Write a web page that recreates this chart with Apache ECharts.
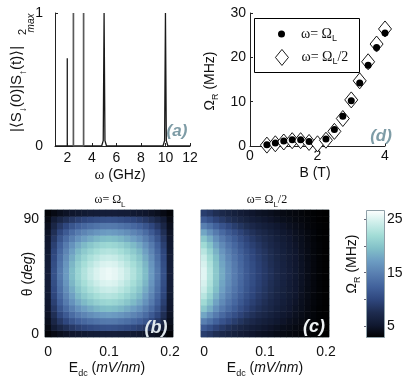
<!DOCTYPE html>
<html>
<head>
<meta charset="utf-8">
<script src="https://cdn.jsdelivr.net/npm/echarts@6/dist/echarts.min.js"></script>
<style>
html,body{margin:0;padding:0;background:#fff;}
#chart{width:415px;height:378px;}
</style>
</head>
<body>
<div id="chart"></div>
<script>
// ---------- Panel (a): spectrum ----------
const specFreq = [1, 2, 2, 2, 4.8, 4.93, 5, 5.07, 5.2, 9.8, 9.93, 10, 10.07, 10.2, 12];
const specAmp  = [0, 0, 0.66, 0, 0, 0.04, 1, 0.04, 0, 0, 0.04, 1, 0.04, 0, 0];
const weakFreq = [2.5, 2.5, 2.5, 3.33, 3.33, 3.33];
const weakAmp  = [0, 1, 0, 0, 1, 0];
const freqTicks = [2, 4, 6, 8, 10, 12];

// ---------- Panel (d): Rabi frequency vs B ----------
const bField    = [0.5, 0.75, 1.0, 1.25, 1.5, 1.75, 2.0, 2.25, 2.5, 2.75, 3.0, 3.25, 3.5, 3.75, 4.0];
const rabiL     = [0.3, 0.7, 1.1, 1.4, 1.4, 1.0, null, 1.6, 3.7, 6.7, 10.2, 14.2, 18.2, 22.2, 25.5];
const rabiHalfL = [0.2, 0.5, 0.9, 1.2, 1.2, 0.8, 0.5, 1.3, 3.3, 6.2, 10.4, 14.7, 19.0, 23.0, 26.4];

// ---------- Panels (b),(c): maps ----------
const edc = [0, 0.01, 0.02, 0.03, 0.04, 0.05, 0.06, 0.07, 0.08, 0.09, 0.1, 0.11, 0.12, 0.13, 0.14, 0.15, 0.16, 0.17, 0.18, 0.19, 0.2];
const thetaDeg = [0, 5, 10, 15, 20, 25, 30, 35, 40, 45, 50, 55, 60, 65, 70, 75, 80, 85, 90, 95];
const edcTickLabels = { '0': '0', '0.1': '0.1', '0.2': '0.2' };
const thetaTickLabels = { '0': '0', '90': '90' };
const cbarTicks = [5, 15, 25];

const rabiMapB = [
 [3.4,4.0,4.5,4.9,5.2,5.4,5.6,5.8,5.9,6.0,6.0,6.0,5.9,5.8,5.6,5.4,5.2,4.9,4.5,4.0,3.4],
 [4.0,5.8,7.0,8.0,8.8,9.5,10.0,10.4,10.7,11.0,11.1,11.0,10.7,10.4,10.0,9.5,8.8,8.0,7.0,5.8,4.0],
 [4.5,7.0,8.8,10.1,11.3,12.3,13.0,13.6,14.0,14.4,14.5,14.4,14.0,13.6,13.0,12.3,11.3,10.1,8.8,7.0,4.5],
 [4.9,8.0,10.1,11.8,13.3,14.6,15.4,16.1,16.7,17.1,17.3,17.1,16.7,16.1,15.4,14.6,13.3,11.8,10.1,8.0,4.9],
 [5.2,8.8,11.3,13.3,14.9,16.4,17.4,18.2,18.9,19.4,19.6,19.4,18.9,18.2,17.4,16.4,14.9,13.3,11.3,8.8,5.2],
 [5.4,9.5,12.3,14.6,16.4,18.1,19.2,20.1,20.9,21.4,21.6,21.4,20.9,20.1,19.2,18.1,16.4,14.6,12.3,9.5,5.4],
 [5.6,10.0,13.0,15.4,17.4,19.2,20.4,21.4,22.2,22.8,23.0,22.8,22.2,21.4,20.4,19.2,17.4,15.4,13.0,10.0,5.6],
 [5.8,10.4,13.6,16.1,18.2,20.1,21.4,22.5,23.3,24.0,24.2,24.0,23.3,22.5,21.4,20.1,18.2,16.1,13.6,10.4,5.8],
 [5.9,10.7,14.0,16.7,18.9,20.9,22.2,23.3,24.2,24.9,25.1,24.9,24.2,23.3,22.2,20.9,18.9,16.7,14.0,10.7,5.9],
 [6.0,11.0,14.4,17.1,19.4,21.4,22.8,24.0,24.9,25.5,25.8,25.5,24.9,24.0,22.8,21.4,19.4,17.1,14.4,11.0,6.0],
 [6.0,11.0,14.4,17.1,19.4,21.4,22.8,24.0,24.9,25.5,25.8,25.5,24.9,24.0,22.8,21.4,19.4,17.1,14.4,11.0,6.0],
 [5.9,10.7,14.0,16.7,18.9,20.9,22.2,23.3,24.2,24.9,25.1,24.9,24.2,23.3,22.2,20.9,18.9,16.7,14.0,10.7,5.9],
 [5.8,10.4,13.6,16.1,18.2,20.1,21.4,22.5,23.3,24.0,24.2,24.0,23.3,22.5,21.4,20.1,18.2,16.1,13.6,10.4,5.8],
 [5.6,10.0,13.0,15.4,17.4,19.2,20.4,21.4,22.2,22.8,23.0,22.8,22.2,21.4,20.4,19.2,17.4,15.4,13.0,10.0,5.6],
 [5.4,9.5,12.3,14.6,16.4,18.1,19.2,20.1,20.9,21.4,21.6,21.4,20.9,20.1,19.2,18.1,16.4,14.6,12.3,9.5,5.4],
 [5.2,8.8,11.3,13.3,14.9,16.4,17.4,18.2,18.9,19.4,19.6,19.4,18.9,18.2,17.4,16.4,14.9,13.3,11.3,8.8,5.2],
 [4.9,8.0,10.1,11.8,13.3,14.6,15.4,16.1,16.7,17.1,17.3,17.1,16.7,16.1,15.4,14.6,13.3,11.8,10.1,8.0,4.9],
 [4.5,7.0,8.8,10.1,11.3,12.3,13.0,13.6,14.0,14.4,14.5,14.4,14.0,13.6,13.0,12.3,11.3,10.1,8.8,7.0,4.5],
 [4.0,5.8,7.0,8.0,8.8,9.5,10.0,10.4,10.7,11.0,11.1,11.0,10.7,10.4,10.0,9.5,8.8,8.0,7.0,5.8,4.0],
 [3.4,4.0,4.5,4.9,5.2,5.4,5.6,5.8,5.9,6.0,6.0,6.0,5.9,5.8,5.6,5.4,5.2,4.9,4.5,4.0,3.4]
];
const rabiMapC = [
 [9.3,8.7,7.9,7.3,6.8,6.3,5.9,5.5,5.2,4.9,4.7,4.5,4.2,4.0,3.8,3.7,3.5,3.3,3.2,3.1,3.0],
 [11.8,10.9,9.8,9.0,8.2,7.6,7.0,6.5,6.0,5.7,5.3,5.0,4.7,4.4,4.2,3.9,3.7,3.5,3.3,3.1,3.0],
 [15.0,13.8,12.4,11.2,10.2,9.3,8.5,7.8,7.2,6.6,6.2,5.8,5.4,5.0,4.6,4.3,4.0,3.6,3.4,3.2,3.1],
 [17.9,16.3,14.6,13.1,11.8,10.8,9.8,8.9,8.2,7.5,7.0,6.4,5.9,5.4,5.0,4.6,4.2,3.8,3.5,3.2,3.1],
 [20.1,18.4,16.3,14.6,13.2,12.0,10.8,9.8,8.9,8.2,7.6,7.0,6.3,5.8,5.3,4.8,4.4,3.9,3.5,3.2,3.1],
 [21.8,19.9,17.6,15.8,14.2,12.9,11.6,10.4,9.5,8.7,8.0,7.3,6.7,6.1,5.5,5.0,4.5,4.0,3.6,3.3,3.1],
 [23.2,21.1,18.7,16.7,15.0,13.6,12.2,11.0,10.0,9.1,8.4,7.7,6.9,6.3,5.7,5.2,4.6,4.1,3.6,3.3,3.1],
 [24.2,22.0,19.5,17.4,15.6,14.1,12.7,11.4,10.3,9.4,8.6,7.9,7.1,6.5,5.8,5.3,4.7,4.1,3.7,3.3,3.1],
 [24.8,22.6,20.0,17.8,16.0,14.5,13.0,11.6,10.6,9.6,8.8,8.0,7.3,6.6,5.9,5.3,4.8,4.2,3.7,3.3,3.1],
 [25.3,23.0,20.3,18.2,16.3,14.7,13.2,11.8,10.7,9.7,8.9,8.2,7.4,6.7,6.0,5.4,4.8,4.2,3.7,3.3,3.1],
 [25.3,23.0,20.3,18.2,16.3,14.7,13.2,11.8,10.7,9.7,8.9,8.2,7.4,6.7,6.0,5.4,4.8,4.2,3.7,3.3,3.1],
 [24.8,22.6,20.0,17.8,16.0,14.5,13.0,11.6,10.6,9.6,8.8,8.0,7.3,6.6,5.9,5.3,4.8,4.2,3.7,3.3,3.1],
 [24.2,22.0,19.5,17.4,15.6,14.1,12.7,11.4,10.3,9.4,8.6,7.9,7.1,6.5,5.8,5.3,4.7,4.1,3.7,3.3,3.1],
 [23.2,21.1,18.7,16.7,15.0,13.6,12.2,11.0,10.0,9.1,8.4,7.7,6.9,6.3,5.7,5.2,4.6,4.1,3.6,3.3,3.1],
 [21.8,19.9,17.6,15.8,14.2,12.9,11.6,10.4,9.5,8.7,8.0,7.3,6.7,6.1,5.5,5.0,4.5,4.0,3.6,3.3,3.1],
 [20.1,18.4,16.3,14.6,13.2,12.0,10.8,9.8,8.9,8.2,7.6,7.0,6.3,5.8,5.3,4.8,4.4,3.9,3.5,3.2,3.1],
 [17.9,16.3,14.6,13.1,11.8,10.8,9.8,8.9,8.2,7.5,7.0,6.4,5.9,5.4,5.0,4.6,4.2,3.8,3.5,3.2,3.1],
 [15.0,13.8,12.4,11.2,10.2,9.3,8.5,7.8,7.2,6.6,6.2,5.8,5.4,5.0,4.6,4.3,4.0,3.6,3.4,3.2,3.1],
 [11.8,10.9,9.8,9.0,8.2,7.6,7.0,6.5,6.0,5.7,5.3,5.0,4.7,4.4,4.2,3.9,3.7,3.5,3.3,3.1,3.0],
 [9.3,8.7,7.9,7.3,6.8,6.3,5.9,5.5,5.2,4.9,4.7,4.5,4.2,4.0,3.8,3.7,3.5,3.3,3.2,3.1,3.0]
];
const mapMin = 3, mapMax = 26.7;

// ---------- styling ----------
const cmap = ['#000000','#101830','#1e2c50','#2f477e','#42629c','#587eb0','#6c9cc2','#82c0c8','#a2dcd6','#cdeeea','#ffffff'];
const SANS = 'Liberation Sans, Arial, sans-serif';
const SERIF = 'Liberation Serif, Times New Roman, serif';
const AX = '#222';

function heatData(rows) {
  const out = [];
  rows.forEach((row, j) => row.forEach((v, i) => out.push([i, j, v])));
  return out;
}
function pairs(xs, ys) {
  const out = [];
  xs.forEach((x, i) => { if (ys[i] !== null) out.push([x, ys[i]]); });
  return out;
}

const tickLabel = { fontFamily: SANS, fontSize: 14, color: '#111' };

function lineAxis(extra) {
  return Object.assign({
    type: 'value',
    axisLine: { show: true, lineStyle: { color: AX, width: 1 } },
    axisTick: { show: true, inside: true, length: 3, lineStyle: { color: AX } },
    splitLine: { show: false },
    axisLabel: Object.assign({ margin: 4 }, tickLabel)
  }, extra);
}

const rich = {
  t: { fontFamily: SANS, fontSize: 14, color: '#111', lineHeight: 20 },
  i: { fontFamily: SANS, fontSize: 14, fontStyle: 'italic', color: '#111', lineHeight: 20 },
  w: { fontFamily: SERIF, fontSize: 15, color: '#111', lineHeight: 20 },
  s: { fontFamily: SANS, fontSize: 9, color: '#111', lineHeight: 10, verticalAlign: 'bottom' },
  ws: { fontFamily: SERIF, fontSize: 12, color: '#111', lineHeight: 18 },
  ss: { fontFamily: SANS, fontSize: 8, color: '#111', lineHeight: 9, verticalAlign: 'bottom' }
};

function txt(x, y, text, rot, extraStyle) {
  return {
    type: 'text', x: x, y: y, rotation: rot || 0, z: 20,
    style: Object.assign({
      text: text, rich: rich, fontFamily: SANS, fontSize: 14, fill: '#111',
      align: 'center', verticalAlign: 'middle', textAlign: 'center', textVerticalAlign: 'middle'
    }, extraStyle || {})
  };
}
const R90 = Math.PI / 2;

const legendRich = {
  t: { fontFamily: SERIF, fontSize: 14, color: '#111', lineHeight: 18 },
  s: { fontFamily: SANS, fontSize: 9, color: '#111', lineHeight: 9, verticalAlign: 'bottom' }
};

function catAxis(grid, data, labelMap, show, margin) {
  return {
    type: 'category', gridIndex: grid, data: data.map(String), boundaryGap: true,
    axisLine: { show: false }, axisTick: { show: false },
    axisLabel: Object.assign({
      show: show, margin: margin,
      interval: (i, v) => labelMap[v] !== undefined,
      formatter: v => labelMap[v]
    }, tickLabel)
  };
}

const option = {
  animation: false,
  backgroundColor: '#fff',
  grid: [
    { left: 55, top: 13, width: 135, height: 133, outerBoundsMode: 'none' },
    { left: 250, top: 13, width: 135, height: 133, outerBoundsMode: 'none' },
    { left: 45, top: 210, width: 128, height: 127, show: true, borderColor: '#8fa0a8', borderWidth: 1, backgroundColor: 'transparent', outerBoundsMode: 'none' },
    { left: 201, top: 210, width: 128, height: 127, show: true, borderColor: '#8fa0a8', borderWidth: 1, backgroundColor: 'transparent', outerBoundsMode: 'none' },
    { left: 366, top: 210, width: 18, height: 127, outerBoundsMode: 'none' }
  ],
  xAxis: [
    lineAxis({ gridIndex: 0, min: 1, max: 12,
      axisLabel: Object.assign({ margin: 5, customValues: freqTicks }, tickLabel),
      axisTick: { show: true, inside: true, length: 3, customValues: freqTicks, lineStyle: { color: AX } } }),
    lineAxis({ gridIndex: 1, min: 0, max: 4, interval: 2,
      axisLabel: Object.assign({ margin: 3 }, tickLabel) }),
    catAxis(2, edc, edcTickLabels, true, 8),
    catAxis(3, edc, edcTickLabels, true, 8),
    { type: 'value', gridIndex: 4, show: false, min: 0, max: 1 }
  ],
  yAxis: [
    lineAxis({ gridIndex: 0, min: 0, max: 1, interval: 1,
      axisLabel: Object.assign({ margin: 12 }, tickLabel) }),
    lineAxis({ gridIndex: 1, min: 0, max: 30, interval: 10,
      axisLabel: Object.assign({ margin: 4 }, tickLabel) }),
    catAxis(2, thetaDeg, thetaTickLabels, true, 6),
    catAxis(3, thetaDeg, thetaTickLabels, false, 6),
    { type: 'value', gridIndex: 4, position: 'right', min: mapMin, max: mapMax,
      axisLine: { show: false }, splitLine: { show: false },
      axisTick: { show: true, inside: true, length: 2, customValues: [5, 10, 15, 20, 25], lineStyle: { color: '#667' } },
      axisLabel: Object.assign({ margin: 3, customValues: cbarTicks }, tickLabel) }
  ],
  visualMap: {
    type: 'continuous', show: false, min: mapMin, max: mapMax,
    seriesIndex: [4, 5], inRange: { color: cmap }
  },
  legend: [
    { data: ['omegaL'], left: 278, top: 27, padding: 0, itemWidth: 7, itemHeight: 7, z: 30,
      formatter: () => '{sp| }{t|ω= Ω}{s|L}',
      textStyle: { rich: Object.assign({}, legendRich, { sp: { width: 11 } }) }, selectedMode: false },
    { data: ['omegaHalf'], left: 275, top: 49, padding: 0, itemWidth: 13, itemHeight: 16, z: 30,
      itemStyle: { borderWidth: 0.9 },
      formatter: () => '{sp| }{t|ω= Ω}{s|L}{t|/2}',
      textStyle: { rich: Object.assign({}, legendRich, { sp: { width: 8 } }) }, selectedMode: false }
  ],
  series: [
    { type: 'line', xAxisIndex: 0, yAxisIndex: 0, showSymbol: false, symbol: 'none',
      data: pairs(specFreq, specAmp), lineStyle: { color: '#1a1a1a', width: 1.3 } },
    { type: 'line', xAxisIndex: 0, yAxisIndex: 0, showSymbol: false, symbol: 'none',
      data: pairs(weakFreq, weakAmp), lineStyle: { color: '#5a5a5a', width: 1.7 } },
    { name: 'omegaHalf', type: 'scatter', xAxisIndex: 1, yAxisIndex: 1, symbol: 'diamond',
      symbolSize: [13, 16], data: pairs(bField, rabiHalfL), z: 2,
      itemStyle: { color: '#fff', borderColor: '#000', borderWidth: 0.9, opacity: 1 } },
    { name: 'omegaL', type: 'scatter', xAxisIndex: 1, yAxisIndex: 1, symbol: 'circle',
      symbolSize: 7, data: pairs(bField, rabiL), z: 3,
      itemStyle: { color: '#000', opacity: 1 } },
    { type: 'heatmap', xAxisIndex: 2, yAxisIndex: 2, data: heatData(rabiMapB),
      itemStyle: { borderWidth: 0 }, emphasis: { disabled: true } },
    { type: 'heatmap', xAxisIndex: 3, yAxisIndex: 3, data: heatData(rabiMapC),
      itemStyle: { borderWidth: 0 }, emphasis: { disabled: true } }
  ],
  graphic: [
    // legend frame
    { type: 'rect', left: 254, top: 18, z: 5, shape: { width: 105, height: 54 },
      style: { fill: '#fff', stroke: '#000', lineWidth: 1 } },
    // colorbar
    { type: 'rect', left: 366, top: 210, z: 5, shape: { width: 18, height: 127 },
      style: { stroke: '#8fa0a8', lineWidth: 1,
        fill: { type: 'linear', x: 0, y: 0, x2: 0, y2: 1,
          colorStops: cmap.slice().reverse().map((c, k) => ({ offset: k / (cmap.length - 1), color: c })) } } },
    // axis titles
    txt(17, 89, '{m|\u007C\u27E8S}{d|\u2193}{m|(0)|S}{d|\u2191}{m|(t)\u27E9\u007C}', R90,
      { rich: { m: { fontFamily: SANS, fontSize: 15, color: '#111', lineHeight: 22 },
                d: { fontFamily: SANS, fontSize: 10, color: '#111', lineHeight: 11, verticalAlign: 'bottom' } } }),
    txt(23, 32, '2', R90, { fontSize: 11 }),
    txt(31, 23, 'max', R90, { fontSize: 10, fontStyle: 'italic' }),
    txt(120, 175, '{w|ω}{t| (GHz)}'),
    txt(210, 81, '{t|Ω}{s|R}{t| (MHz)}', R90),
    txt(315, 173, 'B (T)'),
    txt(28, 274, '{t|θ (}{i|deg}{t|)}', R90),
    txt(107, 368, '{t|E}{s|dc}{t| (}{i|mV/nm}{t|)}'),
    txt(265, 368, '{t|E}{s|dc}{t| (}{i|mV/nm}{t|)}'),
    txt(352, 264, '{t|Ω}{s|R}{t| (MHz)}', R90),
    txt(110, 200, '{ws|ω= Ω}{ss|L}'),
    txt(267, 200, '{ws|ω= Ω}{ss|L}{ws|/2}'),
    // panel tags
    txt(177, 131, '(a)', 0, { fontSize: 17, fontWeight: 'bold', fontStyle: 'italic', fill: '#7e9ca6' }),
    txt(381, 136, '(d)', 0, { fontSize: 17, fontWeight: 'bold', fontStyle: 'italic', fill: '#7e9ca6' }),
    txt(156, 328, '(b)', 0, { fontSize: 18, fontWeight: 'bold', fontStyle: 'italic', fill: '#dfe7ec' }),
    txt(314, 327, '(c)', 0, { fontSize: 18, fontWeight: 'bold', fontStyle: 'italic', fill: '#eef2f4' })
  ]
};

const chart = echarts.init(document.getElementById('chart'), null, { renderer: 'canvas' });
chart.setOption(option);
</script>
</body>
</html>
